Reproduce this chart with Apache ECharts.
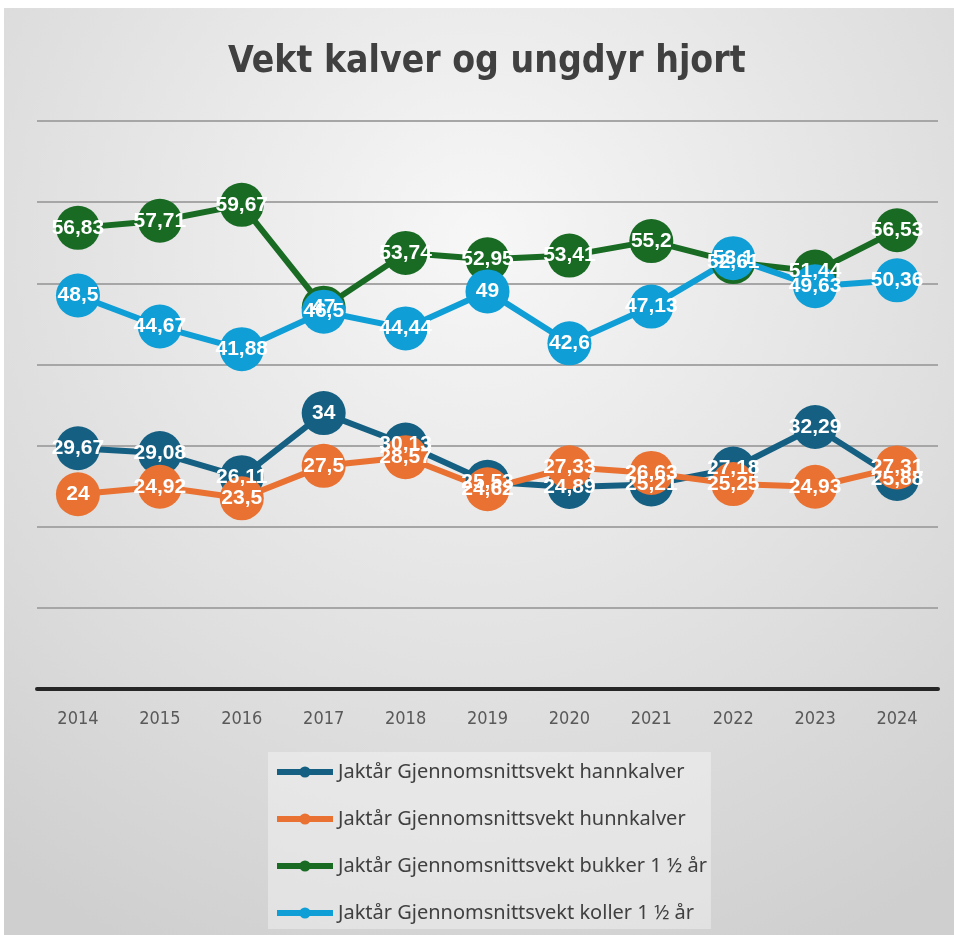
<!DOCTYPE html>
<html>
<head>
<meta charset="utf-8">
<script src="https://cdn.jsdelivr.net/npm/echarts@6/dist/echarts.min.js"></script>
<style>
html, body { margin: 0; padding: 0; background: #fff; }
#chart { position: absolute; left: 4px; top: 8px; width: 950px; height: 927px; }
</style>
</head>
<body>
<div id="chart"></div>
<script>
var years = ['2014', '2015', '2016', '2017', '2018', '2019', '2020', '2021', '2022', '2023', '2024'];
var hannkalver = [29.67, 29.08, 26.11, 34, 30.13, 25.53, 24.89, 25.21, 27.18, 32.29, 25.88];
var hunnkalver = [24, 24.92, 23.5, 27.5, 28.57, 24.62, 27.33, 26.63, 25.25, 24.93, 27.31];
var bukker = [56.83, 57.71, 59.67, 47, 53.74, 52.95, 53.41, 55.2, 52.61, 51.44, 56.53];
var koller = [48.5, 44.67, 41.88, 46.5, 44.44, 49, 42.6, 47.13, 53.1, 49.63, 50.36];

var names = [
    'Jaktår Gjennomsnittsvekt hannkalver',
    'Jaktår Gjennomsnittsvekt hunnkalver',
    'Jaktår Gjennomsnittsvekt bukker 1 ½ år',
    'Jaktår Gjennomsnittsvekt koller 1 ½ år'
];
var colors = ['#156082', '#E97132', '#196B24', '#0F9ED5'];

var narrow = '"DejaVu Sans Condensed", "Liberation Sans", sans-serif';

function makeSeries(name, data, color) {
    return {
        name: name,
        type: 'line',
        data: data,
        symbol: 'circle',
        symbolSize: 44,
        lineStyle: { width: 6, color: color },
        itemStyle: { color: color },
        label: {
            show: true,
            position: 'inside',
            color: '#fff',
            fontFamily: 'Liberation Sans',
            fontWeight: 'bold',
            fontSize: 21,
            formatter: function(p) { return String(p.value).replace('.', ','); }
        }
    };
}

var chart = echarts.init(document.getElementById('chart'));
chart.setOption({
    animation: false,
    backgroundColor: {
        type: 'radial', x: 0.5, y: 0.25, r: 0.85,
        colorStops: [
            { offset: 0, color: '#f7f7f7' },
            { offset: 1, color: '#cfcfcf' }
        ]
    },
    color: colors,
    title: {
        text: 'Vekt kalver og ungdyr hjort',
        left: 219,
        top: 31,
        textStyle: {
            fontFamily: narrow,
            fontWeight: 'bold',
            fontSize: 37,
            color: '#404040'
        }
    },
    legend: {
        orient: 'vertical',
        left: 264,
        top: 744,
        height: 180,
        padding: [10, 4, 6, 6],
        itemGap: 27,
        itemWidth: 56,
        itemHeight: 14,
        lineStyle: { width: 6 },
        backgroundColor: 'rgba(255,255,255,0.35)',
        textStyle: { fontFamily: 'Noto Sans', fontSize: 20, color: '#404040' },
        data: names
    },
    grid: { left: 33, right: 16, top: 113, bottom: 246 },
    xAxis: {
        type: 'category',
        data: years,
        axisLine: { lineStyle: { color: '#262626', width: 4 } },
        axisTick: { show: false },
        axisLabel: {
            margin: 21,
            fontFamily: narrow,
            fontSize: 18,
            color: '#595959'
        }
    },
    yAxis: {
        type: 'value',
        min: 0,
        max: 70,
        interval: 10,
        axisLabel: { show: false },
        axisLine: { show: false },
        axisTick: { show: false },
        splitLine: { lineStyle: { color: '#a6a6a6', width: 2 } }
    },
    series: [
        makeSeries(names[0], hannkalver, colors[0]),
        makeSeries(names[1], hunnkalver, colors[1]),
        makeSeries(names[2], bukker, colors[2]),
        makeSeries(names[3], koller, colors[3])
    ]
});
</script>
</body>
</html>
